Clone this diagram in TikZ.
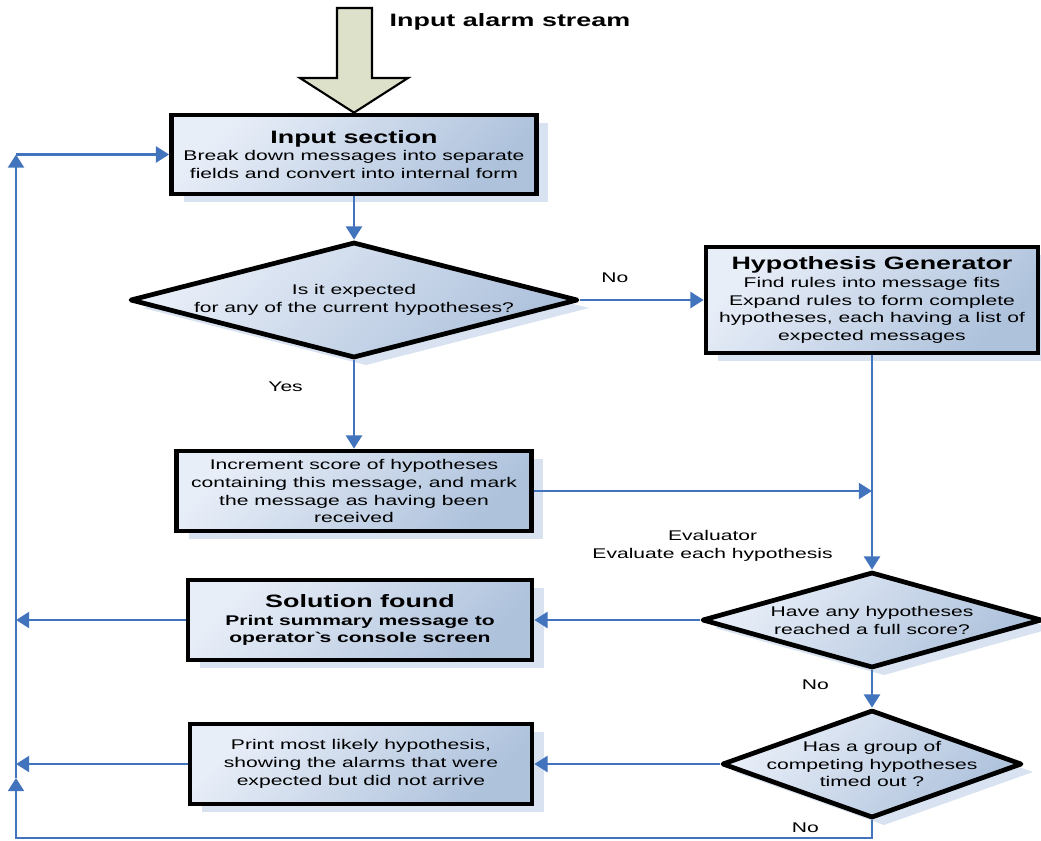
\documentclass[tikz,border=0pt]{standalone}
\usepackage{fontspec}
\setmainfont{Liberation Sans}[FakeStretch=1.5]
\usetikzlibrary{shapes.geometric}
\usetikzlibrary{shadows,arrows.meta}

\definecolor{flowblue}{HTML}{4273BD}
\definecolor{boxlight}{HTML}{E8EEF8}
\definecolor{boxdark}{HTML}{AEC2DC}
\definecolor{shadeblue}{HTML}{D8E2F0}
\definecolor{arrowfill}{HTML}{DDE1CA}

\newcommand{\ttl}[1]{{\fontsize{10.2}{12}\selectfont\bfseries #1}}

\begin{document}
\begin{tikzpicture}[x=0.02cm,y=-0.02cm,font=\fontsize{8}{10.2}\selectfont]

\tikzstyle{block}=[rectangle,draw=black,line width=2.7pt,left color=boxlight,right color=boxdark,shading angle=45,align=center,inner sep=1pt,drop shadow={shadow xshift=0.24cm,shadow yshift=-0.16cm,fill=shadeblue,opacity=1}]
\tikzstyle{decision}=[diamond,draw=black,line width=2.7pt,line join=round,left color=boxlight,right color=boxdark,shading angle=45,inner sep=0pt,drop shadow={shadow xshift=0.24cm,shadow yshift=-0.16cm,fill=shadeblue,opacity=1}]
\tikzstyle{flow}=[draw=flowblue,line width=1.6pt,-{Triangle[width=9pt,length=7.5pt]}]

\useasboundingbox (0,0) rectangle (1041,840);

\node[block,minimum width=7.3cm,minimum height=1.58cm]  (inp) at (354,154.5) {\ttl{Input section}\\Break down messages into separate\\fields and convert into internal form} ;
\node[decision,minimum width=8.96cm,minimum height=2.32cm,label={[align=center]center:{Is it expected\\for any of the current hypotheses?}}] (q1) at (354,300) {} ;
\node[block,minimum width=6.64cm,minimum height=2.12cm] (hyp) at (872,300) {\ttl{Hypothesis Generator}\\Find rules into message fits\\Expand rules to form complete\\hypotheses, each having a list of\\expected messages} ;
\node[block,minimum width=7.1cm,minimum height=1.6cm]   (inc) at (354,491) {Increment score of hypotheses\\containing this message, and mark\\the message as having been\\received} ;
\node[decision,minimum width=6.8cm,minimum height=1.92cm,label={[align=center]center:{Have any hypotheses\\reached a full score?}}] (q2) at (872,620) {} ;
\node[block,minimum width=6.88cm,minimum height=1.6cm]  (sol) at (360,620) {\ttl{Solution found}\\\textbf{Print summary message to}\\\textbf{operator\textasciigrave s console screen}} ;
\node[decision,minimum width=6.0cm,minimum height=2.16cm,label={[align=center]center:{Has a group of\\competing hypotheses\\timed out ?}}] (q3) at (872,764) {} ;
\node[block,minimum width=6.84cm,minimum height=1.6cm]  (lik) at (361,764) {Print most likely hypothesis,\\showing the alarms that were\\expected but did not arrive} ;

\node[font=\fontsize{10.2}{12}\selectfont\bfseries] (ias) at (510,22) {Input alarm stream} ;

% big input arrow
\draw[line width=1.2pt,fill=arrowfill] (337,8) -- (372,8) -- (372,78) -- (408,78) -- (inp.north) -- (300,78) -- (337,78) -- cycle ;

\coordinate (rtop) at (16,154.5) ;
\coordinate (rup)  at (16,778) ;
\coordinate (rbot) at (16,838) ;
\coordinate (ein)  at (hyp.south |- inc.east) ;

\draw[flow] (inp.south) -- (q1.north) ;
\draw[flow] (q1.east) -- node[above=6pt,pos=0.28] {No} (hyp.west) ;
\draw[flow] (q1.south) -- node[left=0.88cm,pos=0.3] {Yes} (inc.north) ;
\draw[flow] (hyp.south) -- node[left=0.64cm,pos=0.89,align=center] {Evaluator\\Evaluate each hypothesis} (q2.north) ;
\draw[flow] (inc.east) -- (ein) ;
\draw[flow] (q2.west) -- (sol.east) ;
\draw[flow] (sol.west) -- (sol.west -| rtop) ;
\draw[flow] (q2.south) -- node[left=0.72cm,pos=0.38] {No} (q3.north) ;
\draw[flow] (q3.west) -- (lik.east) ;
\draw[flow] (lik.west) -- (lik.west -| rtop) ;
\draw[flow] (q3.south) -- node[left=0.92cm,pos=0.4] {No} (q3.south |- rbot) -- (rbot) -- (rup) ;
\draw[flow] (rup) -- (rtop) ;
\draw[flow] (rtop) -- (inp.west) ;

\end{tikzpicture}
\end{document}
